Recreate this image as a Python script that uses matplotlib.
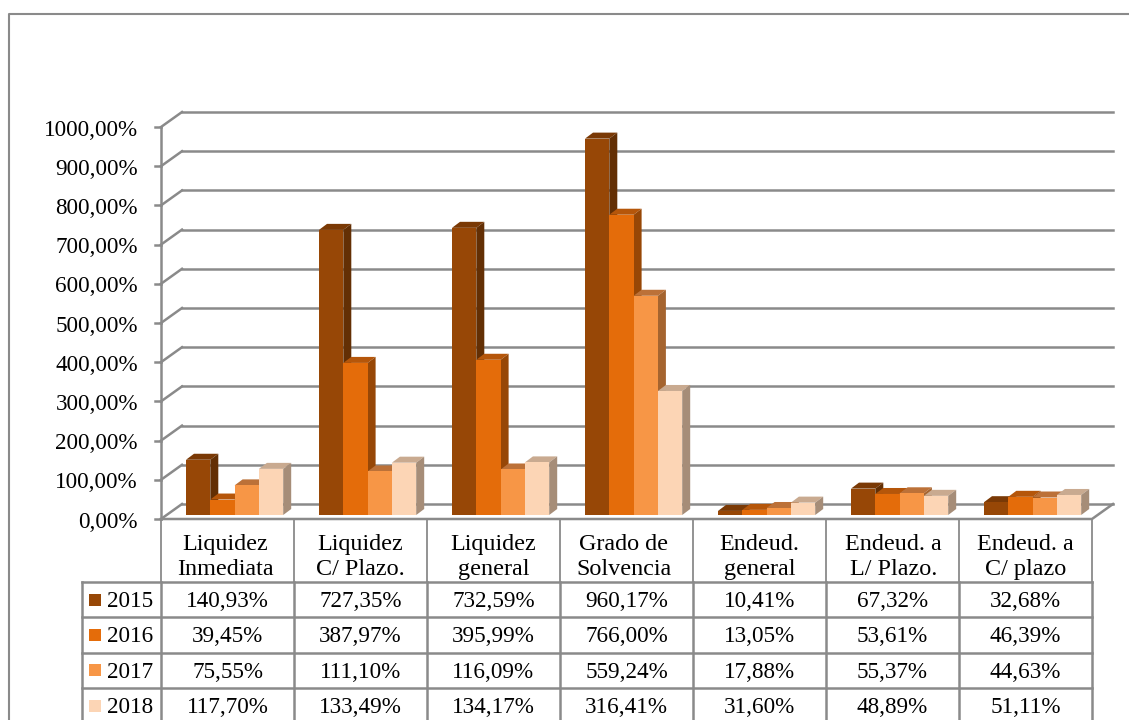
"""Ratios chart: 3D-looking clustered columns with a data table below."""
import matplotlib
matplotlib.use("Agg")
import matplotlib.pyplot as plt
from matplotlib.lines import Line2D
from matplotlib.patches import Polygon

categories = ["Liquidez\nInmediata", "Liquidez\nC/ Plazo.", "Liquidez\ngeneral",
              "Grado de\nSolvencia", "Endeud.\ngeneral", "Endeud. a\nL/ Plazo.",
              "Endeud. a\nC/ plazo"]
years = ["2015", "2016", "2017", "2018"]
v2015 = [140.93, 727.35, 732.59, 960.17, 10.41, 67.32, 32.68]
v2016 = [39.45, 387.97, 395.99, 766.00, 13.05, 53.61, 46.39]
v2017 = [75.55, 111.10, 116.09, 559.24, 17.88, 55.37, 44.63]
v2018 = [117.70, 133.49, 134.17, 316.41, 31.60, 48.89, 51.11]
series = [v2015, v2016, v2017, v2018]
y_ticks = list(range(0, 1001, 100))

front = ["#974706", "#E46C0A", "#F79646", "#FCD5B5"]
top = ["#7A3905", "#B5560A", "#BC7138", "#C9AA90"]
side = ["#632F04", "#974706", "#A5642F", "#A68D78"]
GRID = "#8A8A8A"
W, H = 1129, 720

plt.rcParams["font.family"] = ["Liberation Serif", "DejaVu Serif"]
FS = 16.7

fig = plt.figure(figsize=(W / 100, H / 100), dpi=100)
ax = fig.add_axes([161 / W, 1 - 519 / H, 931 / W, 392 / H])
ax.set_xlim(0, 7)
ax.set_ylim(0, 1000)
ax.axis("off")

# one pixel in data units
px = 7 / 931
py = 1000 / 392
wall_dx, wall_dy = 21 * px, 15 * py
bar_dx, bar_dy = 8 * px, 6 * py
bar_w = 24.3 * px
bar_off = 25 * px
base = 4 * py


def line(xs, ys, lw=1.8, color=GRID, z=1):
    ax.plot(xs, ys, color=color, lw=lw, clip_on=False, zorder=z,
            solid_capstyle="projecting")


# outer frame of the picture
fig.add_artist(Line2D([9 / W, 9 / W, 1], [0, 1 - 14 / H, 1 - 14 / H], color=GRID, lw=1.5))

# walls and gridlines
for t in y_ticks:
    line([0, wall_dx], [t, t + wall_dy])
    line([wall_dx, 7 + wall_dx], [t + wall_dy, t + wall_dy])
    line([-6 * px, 0], [t, t])
    ax.text(-23 * px, t - 3 * py, f"{t},00%", ha="right", va="center", fontsize=FS, color="black")
line([0, 0], [0, 1000])
line([0, 7, 7 + wall_dx], [0, 0, wall_dy])

# columns
for c in range(len(categories)):
    for s, vals in enumerate(series):
        x0 = c + bar_off + s * bar_w
        h = vals[c]
        z = 3 + c + s * 0.1
        ax.bar(x0, h, width=bar_w, bottom=base, align="edge", color=front[s], lw=0,
               zorder=z + 0.02)
        x1 = x0 + bar_w
        y1 = base + h
        ax.add_patch(Polygon([(x0, y1), (x1, y1), (x1 + bar_dx, y1 + bar_dy), (x0 + bar_dx, y1 + bar_dy)],
                             closed=True, fc=top[s], lw=0, zorder=z, clip_on=False))
        ax.add_patch(Polygon([(x1, base), (x1 + bar_dx, base + bar_dy), (x1 + bar_dx, y1 + bar_dy), (x1, y1)],
                             closed=True, fc=side[s], lw=0, zorder=z, clip_on=False))

# data table below the axis, rows measured down from the zero line
header_h = 63 * py
row_h = 35.3 * py
legend_left = -79.5 * px
bottom = -(H - 519) * py

for i in range(8):
    line([i, i], [0, -header_h], lw=1.3)
    line([i, i], [-header_h, bottom], lw=1.8)
for r in range(5):
    yy = -header_h - r * row_h
    line([legend_left, 7], [yy, yy], lw=1.8)
line([legend_left, legend_left], [-header_h, bottom], lw=1.8)

# a couple of header cells sit a little left of centre in the original
header_shift = [-2, 0, 0, -3, 0, 1, 0]
for c, name in enumerate(categories):
    ax.text(c + 0.5 + header_shift[c] * px, -38 * py, name, ha="center", va="center",
            fontsize=17.4, linespacing=1.2, color="black")

for r, (year, vals) in enumerate(zip(years, series)):
    yc = -header_h - (r + 0.5) * row_h
    ax.add_patch(Polygon([(-72 * px, yc - 6 * py), (-60 * px, yc - 6 * py),
                          (-60 * px, yc + 6 * py), (-72 * px, yc + 6 * py)],
                         closed=True, fc=front[r], lw=0, clip_on=False, zorder=3))
    ax.text(-54 * px, yc - 2 * py, year, ha="left", va="center", fontsize=FS, color="black")
    for c, v in enumerate(vals):
        label = f"{v:.2f}".replace(".", ",") + "%"
        ax.text(c + 0.5, yc - 2 * py, label, ha="center", va="center", fontsize=FS, color="black")

fig.savefig("out.png", dpi=100, facecolor="white")
plt.close(fig)
